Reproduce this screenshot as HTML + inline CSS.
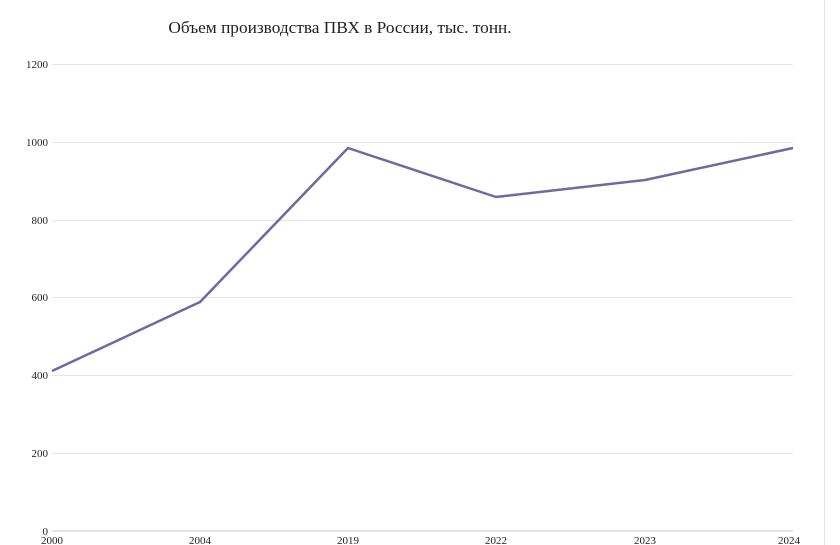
<!DOCTYPE html>
<html><head><meta charset="utf-8"><style>
html,body{margin:0;padding:0;background:#fff;width:840px;height:545px;overflow:hidden}
svg text{font-family:"Liberation Serif",serif;fill:#222}
</style></head><body>
<svg width="840" height="545" viewBox="0 0 840 545">
<line x1="824.5" y1="0" x2="824.5" y2="545" stroke="#e2e2e2" stroke-width="1"/>
<text x="340" y="33" font-size="17.3" text-anchor="middle">Объем производства ПВХ в России, тыс. тонн.</text>
<g stroke="#e6e6e6" stroke-width="1">
<line x1="52" y1="64.5" x2="793" y2="64.5"/>
<line x1="52" y1="142.5" x2="793" y2="142.5"/>
<line x1="52" y1="220.5" x2="793" y2="220.5"/>
<line x1="52" y1="297.5" x2="793" y2="297.5"/>
<line x1="52" y1="375.5" x2="793" y2="375.5"/>
<line x1="52" y1="453.5" x2="793" y2="453.5"/>
</g>
<line x1="52" y1="531" x2="793" y2="531" stroke="#ccc" stroke-width="1"/>
<g font-size="11" text-anchor="end">
<text x="48" y="68">1200</text>
<text x="48" y="146">1000</text>
<text x="48" y="224">800</text>
<text x="48" y="301">600</text>
<text x="48" y="379">400</text>
<text x="48" y="457">200</text>
<text x="48" y="535">0</text>
</g>
<g font-size="11" text-anchor="middle">
<text x="52" y="544">2000</text>
<text x="200" y="544">2004</text>
<text x="348" y="544">2019</text>
<text x="496" y="544">2022</text>
<text x="645" y="544">2023</text>
<text x="789" y="544">2024</text>
</g>
<polyline fill="none" stroke="#6c6aa0" stroke-width="2.5" stroke-linejoin="round"
points="52,371 200,302 348,148 496,197 645,180 793,148"/>
</svg>
</body></html>
